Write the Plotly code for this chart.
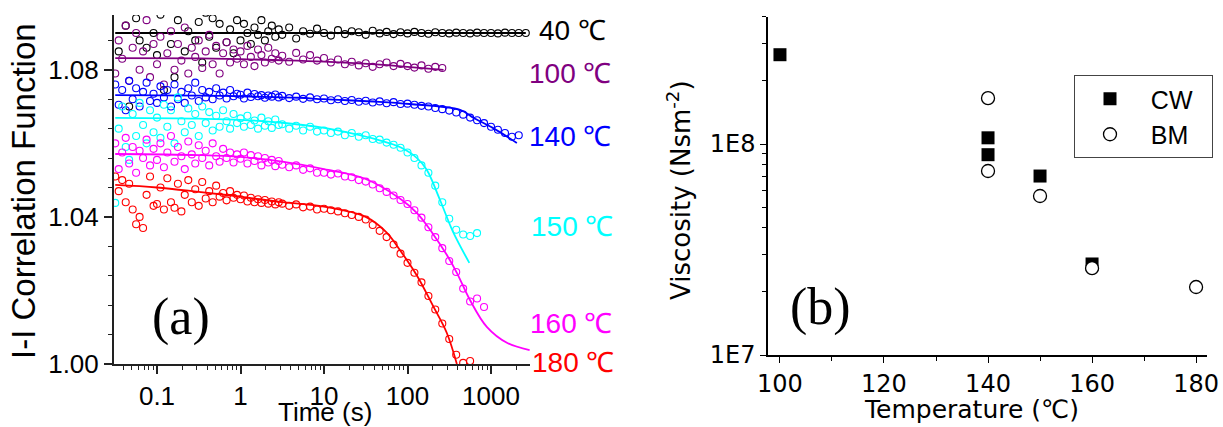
import plotly.graph_objects as go

# ---------------- Panel (a) data ----------------
T = [0.0316, 0.0348, 0.0383, 0.0422, 0.0464, 0.0511, 0.0562, 0.0619, 0.0681, 0.0750, 0.0825, 0.0909,
     0.100, 0.110, 0.121, 0.133, 0.147, 0.162, 0.178, 0.196, 0.215, 0.237, 0.261, 0.287,
     0.316, 0.348, 0.383, 0.422, 0.464, 0.511, 0.562, 0.619, 0.681, 0.750, 0.825, 0.909,
     1.00, 1.10, 1.21, 1.33, 1.47, 1.62, 1.78, 1.96, 2.15, 2.37, 2.61, 2.87,
     3.16, 3.83, 4.64, 5.62, 6.81, 8.25,
     10.0, 12.1, 14.7, 17.8, 21.5, 26.1, 31.6, 38.3, 46.4, 56.2, 68.1, 82.5,
     100, 121, 147, 178, 215, 261, 316, 383, 464, 562, 681, 825,
     1000, 1210, 1470, 1780, 2150, 2610]

V40 = [1.0985, 1.0850, 1.0960, 1.0920, 1.0700, 1.1010, 1.0940, 1.0880, 1.0990, 1.0860, 1.0970, 1.0900,
       1.0840, 1.0950, 1.0745, 1.0990, 1.0870, 1.0780, 1.0935, 1.0960, 1.0850, 1.0905, 1.0975, 1.0880,
       1.0930, 1.0820, 1.0955, 1.0890, 1.0940, 1.0860, 1.0925, 1.0965, 1.0875, 1.0910, 1.0845, 1.0935,
       1.0880, 1.0925, 1.0900, 1.0870, 1.0915, 1.0895, 1.0935, 1.0880, 1.0905, 1.0920, 1.0890, 1.0910,
       1.0895, 1.0915, 1.0885, 1.0905, 1.0898, 1.0912,
       1.0900, 1.0893, 1.0908, 1.0897, 1.0905, 1.0902, 1.0895, 1.0906, 1.0899, 1.0903, 1.0897, 1.0902,
       1.0899, 1.0903, 1.0900, 1.0898, 1.0902, 1.0900, 1.0899, 1.0901, 1.0900, 1.0899, 1.0901, 1.0900,
       1.0900, 1.0899, 1.0901, 1.0900, 1.0900, 1.0900]

V100 = [1.0790, 1.0880, 1.0830, 1.0920, 1.0770, 1.0860, 1.0900, 1.0800, 1.0850, 1.0935, 1.0780, 1.0870,
        1.0815, 1.0890, 1.0760, 1.0845, 1.0905, 1.0800, 1.0870, 1.0825, 1.0915, 1.0790, 1.0860, 1.0835,
        1.0880, 1.0805, 1.0850, 1.0895, 1.0815, 1.0865, 1.0790, 1.0845, 1.0875, 1.0820, 1.0855, 1.0830,
        1.0850, 1.0815, 1.0865, 1.0835, 1.0810, 1.0855, 1.0840, 1.0820, 1.0860, 1.0830, 1.0845, 1.0825,
        1.0838, 1.0822, 1.0846, 1.0828, 1.0840, 1.0825,
        1.0832, 1.0820, 1.0828, 1.0815, 1.0822, 1.0812, 1.0818, 1.0808, 1.0815, 1.0820, 1.0810, 1.0816,
        1.0810, 1.0806, 1.0812, 1.0803, 1.0808, 1.0805]

V140 = [1.0760, 1.0705, 1.0745, 1.0690, 1.0770, 1.0720, 1.0750, 1.0700, 1.0740, 1.0765, 1.0715, 1.0735,
        1.0710, 1.0755, 1.0725, 1.0745, 1.0700, 1.0760, 1.0720, 1.0740, 1.0710, 1.0750, 1.0730, 1.0765,
        1.0715, 1.0745, 1.0725, 1.0740, 1.0720, 1.0750, 1.0730, 1.0738, 1.0722, 1.0745, 1.0728, 1.0735,
        1.0732, 1.0722, 1.0738, 1.0726, 1.0734, 1.0728, 1.0731, 1.0724, 1.0730, 1.0727, 1.0733, 1.0725,
        1.0729, 1.0723, 1.0727, 1.0721, 1.0725, 1.0720,
        1.0722, 1.0717, 1.0720, 1.0715, 1.0718, 1.0713, 1.0716, 1.0711, 1.0714, 1.0709, 1.0712, 1.0707,
        1.0708, 1.0705, 1.0702, 1.0700, 1.0696, 1.0693, 1.0689, 1.0684, 1.0678, 1.0670, 1.0663, 1.0655,
        1.0645, 1.0637, 1.0628, 1.0618, 1.0622]

V150 = [1.0438, 1.0640, 1.0700, 1.0590, 1.0555, 1.0680, 1.0620, 1.0710, 1.0650, 1.0600, 1.0690, 1.0630,
        1.0670, 1.0615, 1.0705, 1.0645, 1.0690, 1.0600, 1.0725, 1.0660, 1.0630, 1.0695, 1.0650, 1.0680,
        1.0620, 1.0700, 1.0655, 1.0685, 1.0635, 1.0675, 1.0645, 1.0690, 1.0660, 1.0640, 1.0680, 1.0655,
        1.0668, 1.0645, 1.0675, 1.0650, 1.0662, 1.0640, 1.0670, 1.0648, 1.0660, 1.0642, 1.0665, 1.0650,
        1.0652, 1.0640, 1.0648, 1.0635, 1.0645, 1.0632,
        1.0635, 1.0628, 1.0632, 1.0622, 1.0628, 1.0618, 1.0622, 1.0612, 1.0610, 1.0602, 1.0596, 1.0588,
        1.0575, 1.0560, 1.0540, 1.0520, 1.0485, 1.0440, 1.0395, 1.0365, 1.0352, 1.0348, 1.0356]

V160 = [1.0600, 1.0530, 1.0575, 1.0615, 1.0545, 1.0590, 1.0520, 1.0580, 1.0560, 1.0610, 1.0540, 1.0585,
        1.0555, 1.0600, 1.0535, 1.0575, 1.0620, 1.0550, 1.0590, 1.0565, 1.0530, 1.0605, 1.0570, 1.0545,
        1.0595, 1.0560, 1.0580, 1.0540, 1.0600, 1.0565, 1.0550, 1.0585, 1.0560, 1.0575, 1.0548, 1.0570,
        1.0558, 1.0575, 1.0545, 1.0568, 1.0552, 1.0565, 1.0540, 1.0560, 1.0548, 1.0555, 1.0538, 1.0552,
        1.0542, 1.0535, 1.0540, 1.0528, 1.0532, 1.0520,
        1.0520, 1.0515, 1.0518, 1.0510, 1.0508, 1.0500, 1.0496, 1.0488, 1.0478, 1.0468, 1.0458, 1.0446,
        1.0435, 1.0418, 1.0398, 1.0372, 1.0345, 1.0315, 1.0280, 1.0250, 1.0205, 1.0170, 1.0178, 1.0155]

V180 = [1.0510, 1.0470, 1.0500, 1.0440, 1.0490, 1.0420, 1.0380, 1.0400, 1.0370, 1.0460, 1.0510, 1.0430,
        1.0435, 1.0480, 1.0420, 1.0505, 1.0440, 1.0425, 1.0490, 1.0415, 1.0460, 1.0500, 1.0440, 1.0475,
        1.0430, 1.0495, 1.0450, 1.0470, 1.0440, 1.0485, 1.0455, 1.0465, 1.0445, 1.0470, 1.0452, 1.0460,
        1.0448, 1.0458, 1.0442, 1.0452, 1.0440, 1.0448, 1.0438, 1.0446, 1.0436, 1.0442, 1.0434, 1.0440,
        1.0436, 1.0430, 1.0434, 1.0426, 1.0428, 1.0420,
        1.0422, 1.0418, 1.0415, 1.0410, 1.0405, 1.0400, 1.0393, 1.0378, 1.0362, 1.0345, 1.0325, 1.0300,
        1.0275, 1.0248, 1.0222, 1.0185, 1.0148, 1.0110, 1.0068, 1.0025, 1.0003, 1.0008]

# fitted curves
FIT40_T = [0.0316, 2610]
FIT40_V = [1.0900, 1.0900]
FIT100_T = [0.0316, 0.316, 1, 3.16, 10, 46.4, 100, 270]
FIT100_V = [1.0832, 1.0831, 1.0829, 1.0826, 1.0822, 1.0814, 1.0808, 1.0800]
FIT140_T = [0.0316, 0.316, 1, 5, 10, 46, 107, 427, 620, 1050, 2040]
FIT140_V = [1.0731, 1.0730, 1.0728, 1.0724, 1.0720, 1.0713, 1.0707, 1.0691, 1.0669, 1.0642, 1.0601]
FIT150_T = [0.0316, 0.316, 1, 3.16, 10, 21.5, 46.4, 81, 130, 170, 245, 350, 550]
FIT150_V = [1.0669, 1.0667, 1.0664, 1.0656, 1.0642, 1.0627, 1.0608, 1.0590, 1.0560, 1.0528, 1.0446, 1.0360, 1.0275]
FIT160_T = [0.0316, 0.316, 1, 3.16, 10, 30, 81, 130, 200, 295, 390, 560, 890, 1570, 2900]
FIT160_V = [1.0571, 1.0568, 1.0563, 1.0550, 1.0530, 1.0505, 1.0450, 1.0410, 1.0355, 1.0297, 1.0248, 1.0174, 1.0101, 1.0057, 1.0038]
FIT180_T = [0.0316, 0.1, 0.316, 1, 3.16, 10, 31.6, 56, 81, 130, 200, 295, 390]
FIT180_V = [1.0487, 1.0480, 1.0468, 1.0455, 1.0440, 1.0428, 1.0400, 1.0358, 1.0310, 1.0240, 1.0160, 1.0085, 1.0000]

SERIES_LABELS = ["40 ℃", "100 ℃", "140 ℃", "150 ℃", "160 ℃", "180 ℃"]
SERIES_COLORS = ["#000000", "#800080", "#0000ff", "#00ffff", "#ff00ff", "#ff0000"]

# ---------------- Panel (b) data ----------------
CW_T = [100, 140, 140, 150, 160]
CW_V = [2.65e8, 1.07e8, 8.9e7, 7.05e7, 2.7e7]
BM_T = [140, 140, 150, 160, 180]
BM_V = [1.65e8, 7.45e7, 5.67e7, 2.58e7, 2.1e7]
LEGEND_NAMES = ["CW", "BM"]

W, H = 1223, 427
fig = go.Figure()

data_sets = [V40, V100, V140, V150, V160, V180]
fits = [(FIT40_T, FIT40_V), (FIT100_T, FIT100_V), (FIT140_T, FIT140_V),
        (FIT150_T, FIT150_V), (FIT160_T, FIT160_V), (FIT180_T, FIT180_V)]

for vals, (ft, fv), col in zip(data_sets, fits, SERIES_COLORS):
    fig.add_trace(go.Scatter(x=T[:len(vals)], y=vals, mode="markers",
                             marker=dict(symbol="circle-open", size=7, color=col, line=dict(width=1.1, color=col)),
                             xaxis="x", yaxis="y", showlegend=False, hoverinfo="skip"))
    fig.add_trace(go.Scatter(x=ft, y=fv, mode="lines", line=dict(color=col, width=1.8, shape="spline"),
                             xaxis="x", yaxis="y", showlegend=False, hoverinfo="skip"))

NB = "\u00a0"
fig.add_trace(go.Scatter(x=CW_T, y=CW_V, mode="markers", name=NB * 3 + LEGEND_NAMES[0] + NB * 2,
                         marker=dict(symbol="square", size=13, color="black"),
                         xaxis="x2", yaxis="y2"))
fig.add_trace(go.Scatter(x=BM_T, y=BM_V, mode="markers", name=NB * 3 + LEGEND_NAMES[1] + NB * 2,
                         marker=dict(symbol="circle", size=13, color="white", line=dict(width=1.3, color="black")),
                         xaxis="x2", yaxis="y2"))

def px_x(p):
    return p / W

def px_y(p):
    return (H - p) / H

minor_log_a = [m * 10 ** e for e in range(-2, 4) for m in range(2, 10)]
minor_log_b = [m * 10 ** e for e in (7, 8) for m in range(2, 10)]

axis_col = "#222222"
fig.update_layout(
    template="none",
    width=W, height=H, margin=dict(l=0, r=0, t=0, b=0, pad=0, autoexpand=False),
    paper_bgcolor="white", plot_bgcolor="white",
    font=dict(family="Liberation Sans, Arial, sans-serif", color="black"),
    xaxis=dict(domain=[px_x(114), px_x(530)], type="log", range=[-1.515, 3.467],
               tickvals=[0.1, 1, 10, 100, 1000], ticktext=["0.1", "1", "10", "100", "1000"],
               ticks="outside", ticklen=8, tickwidth=1.5, tickcolor=axis_col,
               showline=True, linecolor=axis_col, linewidth=2, showgrid=False, zeroline=False,
               automargin=False,
               tickfont=dict(size=26, family="Liberation Sans, Arial, sans-serif"),
               minor=dict(tickvals=minor_log_a, ticks="outside", ticklen=4, tickwidth=1.2, tickcolor=axis_col, showgrid=False),
               anchor="y"),
    yaxis=dict(domain=[px_y(364), px_y(15)], range=[1.0, 1.0949],
               tick0=1.0, dtick=0.04, tickformat=".2f",
               ticks="outside", ticklen=8, tickwidth=1.5, tickcolor=axis_col,
               showline=True, linecolor=axis_col, linewidth=2, showgrid=False, zeroline=False,
               automargin=False,
               tickfont=dict(size=26, family="Liberation Sans, Arial, sans-serif"),
               minor=dict(dtick=0.008, tick0=1.0, ticks="outside", ticklen=4, tickwidth=1.2, tickcolor=axis_col, showgrid=False),
               anchor="x"),
    xaxis2=dict(domain=[px_x(768), px_x(1207)], range=[97.7, 182.1],
                tickvals=[100, 120, 140, 160, 180],
                ticks="outside", ticklen=6, tickwidth=1.3, tickcolor="black",
                showline=True, linecolor="black", linewidth=1.5, showgrid=False, zeroline=False,
                automargin=False,
                tickfont=dict(size=24, family="DejaVu Sans, sans-serif"),
                minor=dict(tickvals=[110, 130, 150, 170], ticks="outside", ticklen=4, tickwidth=1.2, tickcolor="black", showgrid=False),
                anchor="y2"),
    yaxis2=dict(domain=[px_y(355), px_y(17)], type="log", range=[7, 8.602],
                tickvals=[1e7, 1e8], ticktext=["1E7", "1E8"],
                ticks="outside", ticklen=6, tickwidth=1.3, tickcolor="black",
                showline=True, linecolor="black", linewidth=1.5, showgrid=False, zeroline=False,
                automargin=False,
                tickfont=dict(size=24, family="DejaVu Sans, sans-serif"),
                minor=dict(tickvals=minor_log_b, ticks="outside", ticklen=4, tickwidth=1.2, tickcolor="black", showgrid=False),
                anchor="x2"),
    legend=dict(x=px_x(1213), y=px_y(75), xanchor="right", yanchor="top",
                bordercolor="#444444", borderwidth=1, bgcolor="white",
                font=dict(size=25, family="Liberation Sans, Arial, sans-serif", color="black"),
                indentation=15, tracegroupgap=0),
)

ann = []
# axis titles
ann.append(dict(text="I-I Correlation Function", x=px_x(23), y=px_y(191), textangle=-90,
                font=dict(size=33, family="Liberation Sans, Arial, sans-serif")))
ann.append(dict(text="Time (s)", x=px_x(325), y=px_y(412),
                font=dict(size=26, family="Liberation Sans, Arial, sans-serif")))
ann.append(dict(text="Viscosity (Nsm<sup>-2</sup>)", x=px_x(679), y=px_y(190), textangle=-90,
                font=dict(size=26, family="DejaVu Sans, sans-serif")))
ann.append(dict(text="Temperature (℃)", x=px_x(971), y=px_y(409),
                font=dict(size=25, family="DejaVu Sans, sans-serif")))
# panel letters
ann.append(dict(text="(a)", x=px_x(181), y=px_y(317), font=dict(size=52, family="Liberation Serif, serif")))
ann.append(dict(text="(b)", x=px_x(820), y=px_y(307), font=dict(size=52, family="Liberation Serif, serif")))
# temperature labels
label_pos = [(537, 31), (527, 74), (527, 136), (529, 227), (528, 323), (530, 362)]
for lab, col, (lx, ly) in zip(SERIES_LABELS, SERIES_COLORS, label_pos):
    ann.append(dict(text=lab, x=px_x(lx), y=px_y(ly), xanchor="left",
                    font=dict(size=28, color=col, family="Liberation Sans, Arial, sans-serif")))

for a in ann:
    a.setdefault("xanchor", "center")
    a.update(xref="paper", yref="paper", yanchor="middle", showarrow=False)
fig.update_layout(annotations=ann)

fig.write_html("out.html", config={"displayModeBar": False},
               post_script="document.body.style.margin='0';document.body.style.overflow='hidden';")
